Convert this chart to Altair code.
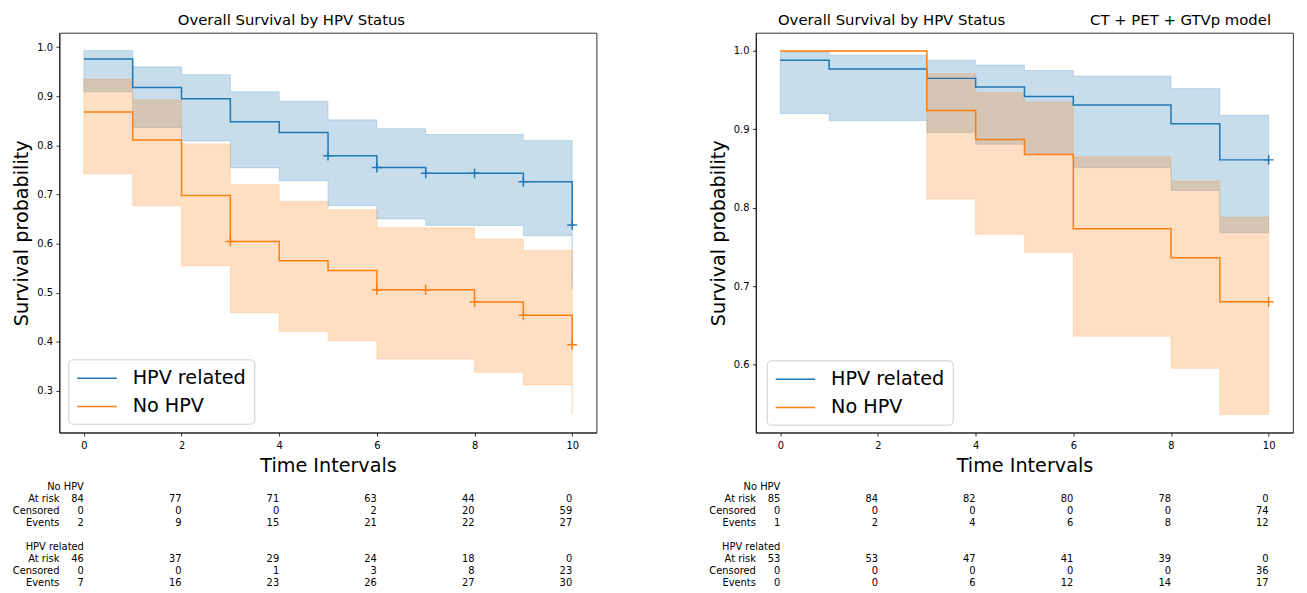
import altair as alt
import pandas as pd

TIMES = list(range(11))
TABLE_TIMES = [0, 2, 4, 6, 8, 10]
GROUPS = ["HPV related", "No HPV"]
COLORS = ["#1f77b4", "#ff7f0e"]
ROW_NAMES = ["At risk", "Censored", "Events"]

# ---------- Left panel ----------
P1_HPV_SURV = [0.976, 0.918, 0.895, 0.848, 0.826, 0.779, 0.755, 0.743, 0.743, 0.726, 0.638]
P1_HPV_LO = [0.909, 0.836, 0.809, 0.754, 0.728, 0.677, 0.650, 0.637, 0.637, 0.616, 0.507]
P1_HPV_HI = [0.993, 0.960, 0.944, 0.909, 0.890, 0.852, 0.834, 0.822, 0.822, 0.810, 0.760]
P1_HPV_CENSOR_T = [5, 6, 7, 8, 9, 10]
P1_NO_SURV = [0.868, 0.811, 0.698, 0.604, 0.565, 0.545, 0.506, 0.506, 0.481, 0.454, 0.394]
P1_NO_LO = [0.742, 0.677, 0.555, 0.459, 0.421, 0.402, 0.365, 0.365, 0.338, 0.312, 0.252]
P1_NO_HI = [0.935, 0.893, 0.803, 0.720, 0.686, 0.669, 0.632, 0.632, 0.609, 0.586, 0.530]
P1_NO_CENSOR_T = [3, 6, 7, 8, 9, 10]
P1_YDOMAIN = [0.215, 1.029]
P1_YTICKS = [0.3, 0.4, 0.5, 0.6, 0.7, 0.8, 0.9, 1.0]
P1_TABLE_NO = [[84, 77, 71, 63, 44, 0], [0, 0, 0, 2, 20, 59], [2, 9, 15, 21, 22, 27]]
P1_TABLE_HPV = [[46, 37, 29, 24, 18, 0], [0, 0, 1, 3, 8, 23], [7, 16, 23, 26, 27, 30]]
P1_TITLE = "Overall Survival by HPV Status"

# ---------- Right panel ----------
P2_HPV_SURV = [0.988, 0.977, 0.977, 0.965, 0.954, 0.942, 0.931, 0.931, 0.907, 0.861, 0.861]
P2_HPV_LO = [0.920, 0.911, 0.911, 0.896, 0.881, 0.868, 0.851, 0.851, 0.822, 0.768, 0.768]
P2_HPV_HI = [0.999, 0.9945, 0.9945, 0.988, 0.982, 0.975, 0.968, 0.968, 0.952, 0.918, 0.918]
P2_HPV_CENSOR_T = [10]
P2_NO_SURV = [1.0, 1.0, 1.0, 0.924, 0.887, 0.868, 0.773, 0.773, 0.736, 0.680, 0.680]
P2_NO_LO = [1.0, 1.0, 1.0, 0.811, 0.766, 0.743, 0.636, 0.636, 0.595, 0.536, 0.536]
P2_NO_HI = [1.0, 1.0, 1.0, 0.971, 0.947, 0.935, 0.865, 0.865, 0.834, 0.788, 0.788]
P2_NO_CENSOR_T = [10]
P2_YDOMAIN = [0.513, 1.023]
P2_YTICKS = [0.6, 0.7, 0.8, 0.9, 1.0]
P2_TABLE_NO = [[85, 84, 82, 80, 78, 0], [0, 0, 0, 0, 0, 74], [1, 2, 4, 6, 8, 12]]
P2_TABLE_HPV = [[53, 53, 47, 41, 39, 0], [0, 0, 0, 0, 0, 36], [0, 0, 6, 12, 14, 17]]
P2_TITLE = "Overall Survival by HPV Status" + "\u00a0" * 18 + "CT + PET + GTVp model"

PLOT_W, PLOT_H = 543, 404
FONT = "DejaVu Sans"


def km_panel(title, title_dx, hpv, no, ydom, yticks, lx, ly):
    hs, hlo, hhi, hcens = hpv
    ns, nlo, nhi, ncens = no
    xscale = alt.Scale(domain=[-0.5, 10.5], nice=False, zero=False)
    xaxis = alt.Axis(values=TABLE_TIMES, title="Time Intervals", format="d")
    yscale = alt.Scale(domain=ydom, nice=False, zero=False)
    yaxis = alt.Axis(values=yticks, format=".1f", title="Survival probability")

    def band(lo, hi, col):
        df = pd.DataFrame({"t": TIMES, "lo": lo, "hi": hi})
        return alt.Chart(df).mark_area(
            interpolate="step-after", color=col, fillOpacity=0.25,
            stroke=col, strokeOpacity=0.2, strokeWidth=1,
        ).encode(
            x=alt.X("t:Q", scale=xscale, axis=xaxis),
            y=alt.Y("lo:Q", scale=yscale, axis=yaxis),
            y2="hi:Q",
        )

    lines_df = pd.DataFrame({
        "t": TIMES + TIMES,
        "s": hs + ns,
        "group": [GROUPS[0]] * len(TIMES) + [GROUPS[1]] * len(TIMES),
    })
    cens_df = pd.DataFrame({
        "t": hcens + ncens,
        "s": [hs[t] for t in hcens] + [ns[t] for t in ncens],
        "group": [GROUPS[0]] * len(hcens) + [GROUPS[1]] * len(ncens),
    })
    cscale = alt.Scale(domain=GROUPS, range=COLORS)
    legend = alt.Legend(
        title=None, orient="none", legendX=lx, legendY=ly,
        symbolType="M-2,0H2", symbolSize=400, symbolStrokeWidth=1.5,
        symbolOffset=10,
        labelFontSize=19.4, labelFont=FONT, labelColor="black", labelLimit=400,
        fillColor="rgba(255,255,255,0.8)", strokeColor="#cccccc", cornerRadius=4,
        padding=8, rowPadding=7.6, labelOffset=25,
    )
    lines = alt.Chart(lines_df).mark_line(interpolate="step-after", strokeWidth=1.5).encode(
        x=alt.X("t:Q", scale=xscale, axis=xaxis),
        y=alt.Y("s:Q", scale=yscale, axis=yaxis),
        color=alt.Color("group:N", scale=cscale, legend=legend),
    )
    cens = alt.Chart(cens_df).mark_point(
        shape="M-1,0H1M0,-1V1", size=100, filled=False, strokeWidth=1.5, opacity=1,
    ).encode(
        x=alt.X("t:Q", scale=xscale, axis=xaxis),
        y=alt.Y("s:Q", scale=yscale, axis=yaxis),
        color=alt.Color("group:N", scale=cscale, legend=None),
    )
    return alt.layer(band(hlo, hhi, COLORS[0]), band(nlo, nhi, COLORS[1]), lines, cens).properties(
        width=PLOT_W, height=PLOT_H,
        title=alt.TitleParams(title, dx=title_dx, anchor="middle", offset=5,
                              fontSize=15, font=FONT, fontWeight="normal", color="black"),
        view=alt.ViewBackground(stroke="black", strokeWidth=0.8),
    )


def table_panel(no_rows, hpv_rows):
    recs = []
    for base, name, rows in [(0, GROUPS[1], no_rows), (5, GROUPS[0], hpv_rows)]:
        recs.append({"t": 0, "row": base, "label": name})
        for i, (rname, vals) in enumerate(zip(ROW_NAMES, rows)):
            r = base + 1 + i
            recs.append({"t": -0.5, "row": r, "label": rname})
            for tt, v in zip(TABLE_TIMES, vals):
                recs.append({"t": tt, "row": r, "label": str(v)})
    df = pd.DataFrame(recs)
    return alt.Chart(df).mark_text(
        align="right", baseline="middle", fontSize=10, font=FONT, color="black",
    ).encode(
        x=alt.X("t:Q", scale=alt.Scale(domain=[-0.5, 10.5], nice=False, zero=False), axis=None),
        y=alt.Y("row:Q", scale=alt.Scale(domain=[0, 8], reverse=True, nice=False, zero=False), axis=None),
        text="label:N",
    ).properties(width=PLOT_W, height=97, view=alt.ViewBackground(strokeOpacity=0))


def column(plot, table):
    return alt.vconcat(plot, table, spacing=55, bounds="flush").resolve_scale(
        x="independent", y="independent", color="independent"
    ).resolve_legend(color="independent")


left = column(
    km_panel(P1_TITLE, -37,
             (P1_HPV_SURV, P1_HPV_LO, P1_HPV_HI, P1_HPV_CENSOR_T),
             (P1_NO_SURV, P1_NO_LO, P1_NO_HI, P1_NO_CENSOR_T),
             P1_YDOMAIN, P1_YTICKS, 9, 330),
    table_panel(P1_TABLE_NO, P1_TABLE_HPV),
)
right = column(
    km_panel(P2_TITLE, 0,
             (P2_HPV_SURV, P2_HPV_LO, P2_HPV_HI, P2_HPV_CENSOR_T),
             (P2_NO_SURV, P2_NO_LO, P2_NO_HI, P2_NO_CENSOR_T),
             P2_YDOMAIN, P2_YTICKS, 11, 331),
    table_panel(P2_TABLE_NO, P2_TABLE_HPV),
)

chart = alt.hconcat(left, right, spacing=111).resolve_scale(
    x="independent", y="independent", color="independent"
).resolve_legend(color="independent").properties(
    padding={"left": 3, "top": 1, "right": 5, "bottom": 5}
).configure(font=FONT).configure_axis(
    labelFont=FONT, labelFontSize=10, labelColor="black",
    titleFont=FONT, titleFontSize=19.4, titleFontWeight="normal", titleColor="black",
    tickSize=3.5, tickWidth=0.8, tickColor="black",
    domainColor="black", domainWidth=0.8, grid=False, labelPadding=3.5,
).configure_axisX(titlePadding=5.5, labelPadding=5).configure_axisY(titlePadding=5).configure_view(
    stroke="black", strokeWidth=0.8
)

chart.save("out.html", embed_options={"renderer": "svg", "actions": False})
